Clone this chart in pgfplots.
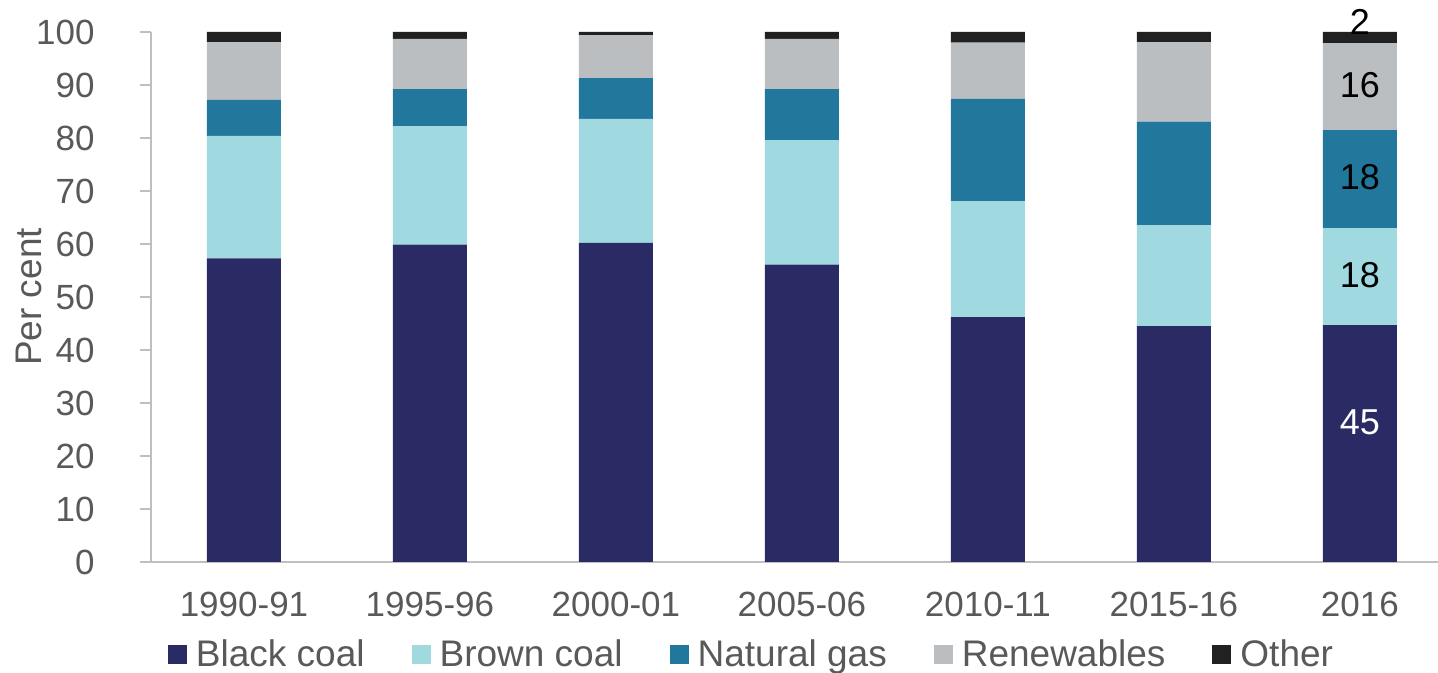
\documentclass[border=0pt]{standalone}
\usepackage{fontspec}
\setmainfont{Liberation Sans}
\usepackage{pgfplots}
\pgfplotsset{compat=1.18}

\definecolor{blackcoal}{RGB}{42,43,100}
\definecolor{browncoal}{RGB}{160,217,224}
\definecolor{natgas}{RGB}{34,120,156}
\definecolor{renew}{RGB}{187,190,193}
\definecolor{other}{RGB}{33,33,33}
\definecolor{axisgray}{RGB}{191,191,191}
\definecolor{labelgray}{RGB}{89,89,89}

\pgfplotsset{
  sq/.style={fill=#1, draw=none,
    legend image code/.code={\fill[##1] (0pt,-4.75pt) rectangle (9.5pt,4.75pt);}},
}

\begin{document}
\begin{tikzpicture}
\begin{axis}[
  name=main,
  ybar stacked,
  bar width=37pt,
  scale only axis,
  width=643.5pt, height=265pt,
  xmin=-0.5, xmax=6.42,
  ymin=0, ymax=100,
  enlargelimits=false,
  axis x line*=bottom,
  axis y line*=left,
  axis line style={draw=axisgray, line width=1pt},
  xtick={0,...,6},
  xticklabels={1990-91,1995-96,2000-01,2005-06,2010-11,2015-16,2016},
  xtick style={draw=none},
  ytick={0,10,...,100},
  ytick style={draw=axisgray, line width=1pt},
  tick align=outside,
  major tick length=5.5pt,
  tick label style={text=labelgray, font=\fontsize{17.5}{21}\selectfont},
  /pgf/number format/assume math mode=true,
  xticklabel style={anchor=north, inner sep=0pt, yshift=-9.5pt},
  yticklabel style={anchor=east, inner sep=0pt, xshift=-22.5pt},
  ylabel={Per cent},
  ylabel style={at={(axis description cs:0,0.5)}, anchor=center,
    yshift=61.25pt, text=labelgray, font=\fontsize{18.5}{22}\selectfont},
  legend columns=-1,
  legend style={at={(rel axis cs:0.4658,-0.175)}, anchor=center,
    draw=none, fill=none, inner sep=0pt,
    text=labelgray, font=\fontsize{18.5}{22}\selectfont,
    nodes={inner sep=0pt},
    /tikz/every odd column/.append style={column sep=4.5pt},
    /tikz/every even column/.append style={column sep=23.5pt}},
]
% Black coal, brown coal, natural gas, renewables, other
\addplot[sq=blackcoal] coordinates {(0,57.3) (1,59.9) (2,60.2) (3,56.1) (4,46.2) (5,44.5) (6,44.7)};
\addplot[sq=browncoal] coordinates {(0,23.1) (1,22.3) (2,23.4) (3,23.5) (4,21.9) (5,19.0) (6,18.3)};
\addplot[sq=natgas] coordinates {(0,6.8) (1,7.0) (2,7.7) (3,9.6) (4,19.3) (5,19.6) (6,18.5)};
\addplot[sq=renew] coordinates {(0,10.9) (1,9.5) (2,8.1) (3,9.5) (4,10.6) (5,15.0) (6,16.4)};
\addplot[sq=other] coordinates {(0,1.9) (1,1.3) (2,0.6) (3,1.3) (4,2.0) (5,1.9) (6,2.1)};
\legend{Black coal, Brown coal, Natural gas, Renewables, Other}

\coordinate (l1) at (axis cs:6,26.4);
\coordinate (l2) at (axis cs:6,54.2);
\coordinate (l3) at (axis cs:6,72.6);
\coordinate (l4) at (axis cs:6,90.0);
\coordinate (l5) at (axis cs:6,101.9);
\end{axis}
\begin{scope}[font=\fontsize{18}{21}\selectfont]
\node[text=white] at (l1) {45};
\node[text=black] at (l2) {18};
\node[text=black] at (l3) {18};
\node[text=black] at (l4) {16};
\node[text=black] at (l5) {2};
\end{scope}
\pgfresetboundingbox
\path[use as bounding box] ([xshift=-75.5pt,yshift=-55.5pt]main.south west) rectangle ([yshift=16pt]main.north east);
\end{tikzpicture}
\end{document}
